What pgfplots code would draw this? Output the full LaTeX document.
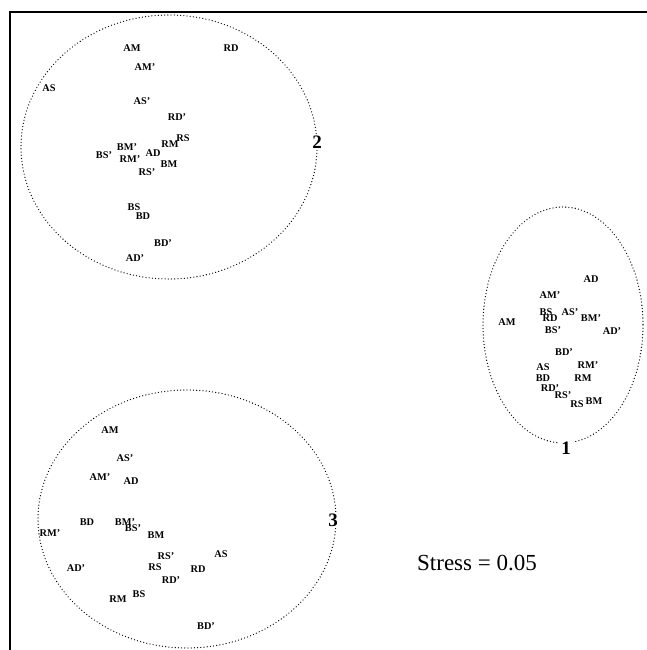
\documentclass[border=0pt]{standalone}
\usepackage{fontspec}
\setmainfont{Liberation Serif}
\usepackage{pgfplots}
\usepackage{pgfplotstable}
\pgfplotsset{compat=1.18}
\pgfplotstableread{
x y lab
507 322 AM
591 279 AD
550 295 AM'
546 312 BS
550 318 RD
570 312 AS'
591 318 BM'
612 331 AD'
553 330 BS'
564 352 BD'
543 367 AS
588 365 RM'
543 378 BD
583 378 RM
550 388 RD'
563 395 RS'
577 404 RS
594 401 BM
}\clusterone
\pgfplotstableread{
x y lab
132 48 AM
231 48 RD
145 67 AM'
49 88 AS
142 101 AS'
177 117 RD'
183 138 RS
170 144 RM
104 155 BS'
127 147 BM'
153 153 AD
130 159 RM'
169 164 BM
147 172 RS'
134 207 BS
143 216 BD
163 243 BD'
135 258 AD'
}\clustertwo
\pgfplotstableread{
x y lab
110 430 AM
125 458 AS'
100 477 AM'
131 481 AD
87 522 BD
125 522 BM'
133 528 BS'
50 533 RM'
156 535 BM
166 556 RS'
221 554 AS
155 567 RS
198 569 RD
171 580 RD'
76 568 AD'
139 594 BS
118 599 RM
206 626 BD'
}\clusterthree
\begin{document}
\begin{tikzpicture}
\begin{axis}[width=647pt,height=650pt,scale only axis,
  xmin=0,xmax=647,ymin=0,ymax=650,y dir=reverse,hide axis,clip=false,
  every node near coord/.append style={anchor=center,inner sep=0pt,
    font=\fontsize{10.3}{12}\selectfont\bfseries}]
\draw[line width=1.8pt] (axis cs:10,650) -- (axis cs:10,12);
\draw[line width=1.3pt] (axis cs:9,12) -- (axis cs:647,12);
\tikzset{dotell/.style={line width=1.3pt,line cap=round,dash pattern=on 0pt off 3.2pt}}
\draw[dotell] (axis cs:169,147) ellipse [x radius=148, y radius=132];
\draw[dotell] (axis cs:563,325) ellipse [x radius=80, y radius=118];
\draw[dotell] (axis cs:187,519) ellipse [x radius=149, y radius=129];
\addplot[draw=none,mark=none,point meta=explicit symbolic,nodes near coords] table[meta=lab]{\clusterone};
\addplot[draw=none,mark=none,point meta=explicit symbolic,nodes near coords] table[meta=lab]{\clustertwo};
\addplot[draw=none,mark=none,point meta=explicit symbolic,nodes near coords] table[meta=lab]{\clusterthree};
\node[fill=white,inner sep=2pt,font=\fontsize{19}{20}\selectfont\bfseries] at (axis cs:566,448) {1};
\node[fill=white,inner sep=2pt,font=\fontsize{19}{20}\selectfont\bfseries] at (axis cs:317,142) {2};
\node[fill=white,inner sep=2pt,font=\fontsize{19}{20}\selectfont\bfseries] at (axis cs:333,520) {3};
\node[font=\fontsize{23}{26}\selectfont] at (axis cs:477,563) {Stress = 0.05};
\end{axis}
\pgfresetboundingbox
\useasboundingbox (0,0) rectangle (647pt,650pt);
\end{tikzpicture}
\end{document}
